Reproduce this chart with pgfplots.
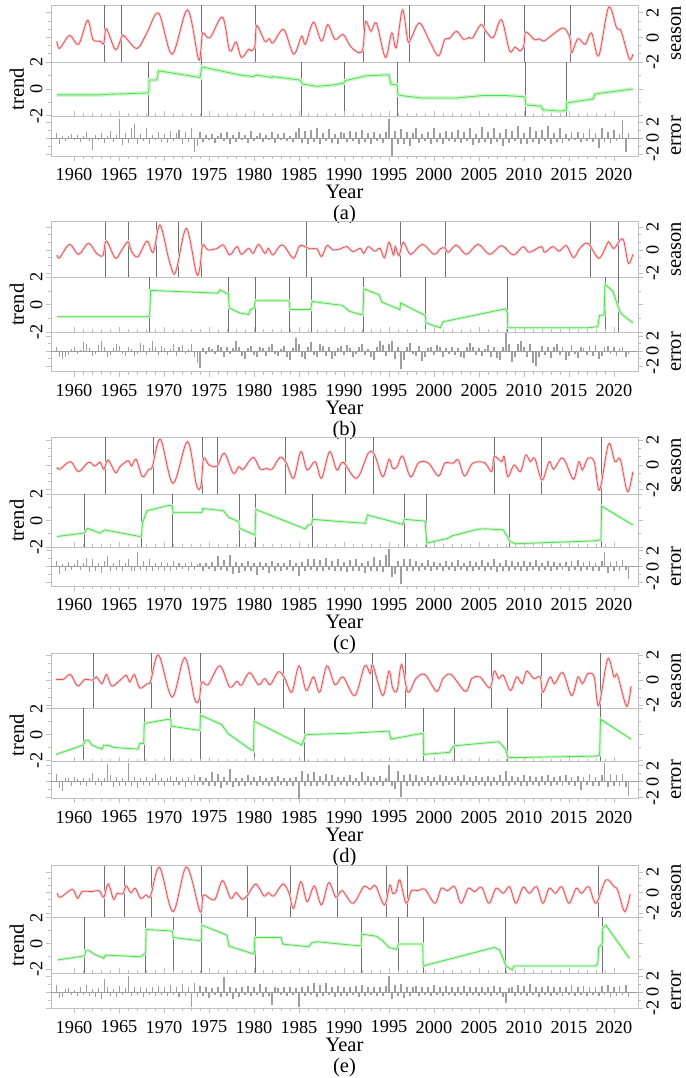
\documentclass[border=0pt]{standalone}
\usepackage{fontspec}
\setmainfont{Liberation Serif}
\usepackage{pgfplots}
\pgfplotsset{compat=1.18}
\usepackage{pgfplotstable}

\definecolor{seasc}{RGB}{226,80,86}
\definecolor{seasband}{RGB}{250,212,214}
\definecolor{trendc}{RGB}{76,224,76}
\definecolor{trendband}{RGB}{210,246,210}
\definecolor{errc}{RGB}{158,158,158}
\definecolor{boxc}{RGB}{192,192,192}
\definecolor{cpc}{RGB}{112,112,112}

% ---------------- season (a) ----------------
\pgfplotstableread{
x y
1958.1 -0.3
1958.4 -0.9
1959.5 0.16
1960.5 -0.56
1961.5 1.39
1962.1 -0.16
1962.9 -0.3
1963.3 -0.5
1963.6 0.7
1964.6 -1.0
1965.3 0.05
1965.6 0.1
1967.0 -0.9
1968.1 0.37
1969.4 1.97
1970.9 -1.36
1972.6 2.24
1973.8 -1.7
1974.1 -1.0
1974.3 0.37
1975.1 -0.03
1976.5 1.65
1977.3 -1.1
1978.0 -0.37
1978.6 -1.63
1979.4 -0.96
1979.7 -1.1
1980.1 -0.7
1980.3 0.96
1981.2 -0.3
1981.7 -0.1
1982.1 -0.45
1983.3 0.64
1984.4 -1.36
1985.3 0.1
1985.7 -0.56
1986.6 1.23
1987.5 -0.3
1988.2 1.04
1989.0 -0.16
1989.9 0.24
1990.7 -0.7
1991.6 -1.23
1992.1 -0.9
1992.4 1.3
1993.0 0.5
1993.6 1.17
1994.6 -1.63
1995.3 0.37
1995.8 -0.83
1996.5 2.24
1997.1 -0.3
1997.5 0.0
1998.4 1.17
1999.6 -0.43
2000.5 -1.5
2001.2 -0.16
2001.7 -0.1
2002.5 0.5
2003.3 -0.16
2003.9 0.0
2004.3 -0.05
2005.2 1.04
2005.9 0.37
2006.6 0.0
2007.5 1.44
2008.4 -1.1
2009.0 -0.8
2009.6 -1.1
2010.0 -0.6
2010.2 0.45
2011.2 -0.2
2011.7 -0.1
2012.2 -0.3
2013.2 0.24
2014.4 0.77
2015.1 -0.03
2015.3 -1.23
2016.0 -0.1
2016.8 -0.56
2017.5 0.37
2018.3 -1.5
2019.4 2.45
2020.3 0.77
2020.8 0.5
2021.7 -1.76
2022.1 -1.36
}\sa
\pgfplotstableread{
x y
1958.1 -0.44
1962.9 -0.44
1963.6 -0.4
1968.1 -0.3
1968.3 -0.28
1968.35 0.67
1969.2 0.67
1969.4 1.36
1974.0 0.86
1974.2 1.65
1978.5 1.04
1979.9 0.93
1980.3 1.04
1982.0 0.86
1982.1 0.93
1985.1 0.67
1985.4 0.37
1987.0 0.2
1988.8 0.3
1989.9 0.44
1990.0 0.45
1990.1 0.62
1991.7 0.86
1992.5 0.99
1995.0 1.06
1995.2 0.37
1995.9 0.3
1996.0 -0.44
1996.9 -0.54
1998.7 -0.67
2002.5 -0.67
2005.4 -0.49
2008.0 -0.49
2009.8 -0.57
2010.1 -0.6
2010.2 -1.19
2011.9 -1.28
2012.1 -1.56
2014.1 -1.65
2014.7 -1.6
2014.75 -1.04
2017.7 -0.74
2017.9 -0.37
2022.1 0.0
}\ta
% ---------------- (b) ----------------
\pgfplotstableread{
x y
1958.1 -0.43
1958.4 -0.67
1959.5 0.49
1960.5 -0.38
1961.6 0.58
1962.5 -0.29
1963.2 -0.49
1963.6 0.78
1964.6 -0.72
1965.3 0
1966.0 0.72
1966.4 -0.14
1967.1 -0.58
1968.1 0.78
1968.8 -0.2
1969.55 2.17
1970.5 -0.72
1971.1 -2.1
1971.5 -1.3
1972.5 1.88
1973.6 -2.03
1974.0 -1.45
1974.3 0.43
1974.9 0
1975.9 0.14
1976.6 0.43
1977.3 -0.43
1978.1 0.29
1978.6 -0.38
1979.4 0.14
1979.9 -0.29
1980.5 0.49
1981.2 -0.29
1981.6 0.14
1982.1 -0.43
1982.9 0.38
1983.4 0.3
1984.4 -0.72
1985.1 0.38
1986.2 0.1
1987.0 0.1
1987.5 -0.58
1988.1 0.38
1988.8 0
1989.6 0.1
1990.3 0.3
1991.0 -0.14
1991.8 0.14
1992.2 -0.29
1992.7 0.29
1993.4 -0.1
1994.0 0.14
1994.5 -0.67
1995.0 0.67
1995.5 -0.43
1995.7 0.29
1996.1 -0.49
1996.6 0.67
1997.4 -0.38
1998.7 0.49
2000.0 -0.38
2000.7 0.1
2001.2 0.2
2001.6 -0.2
2002.5 0.43
2003.6 -0.38
2004.9 0.49
2006.2 -0.38
2007.5 0.38
2008.8 -0.43
2009.9 0.29
2010.6 -0.2
2011.9 0.29
2012.3 -0.2
2013.2 0.29
2013.9 -0.1
2014.7 0.38
2015.5 -0.67
2016.2 0.14
2017.1 0.58
2018.3 -0.72
2019.1 0.29
2019.4 0.72
2019.9 0.14
2020.2 0.3
2021.0 0.96
2021.6 -1.16
2022.1 -0.38
}\sb
\pgfplotstableread{
x y
1958.1 -0.89
1968.1 -0.89
1968.4 -0.85
1968.5 1.04
1976.0 0.84
1976.2 1.08
1976.9 0.84
1977.15 0.8
1977.25 -0.24
1978.4 -0.6
1979.4 -0.72
1979.6 -0.36
1980.0 -0.24
1980.15 0.29
1983.6 0.29
1983.9 0.27
1984.0 -0.36
1986.3 -0.36
1986.45 0.24
1987.7 0.12
1989.8 -0.05
1990.6 -0.48
1991.8 -0.72
1992.1 -0.74
1992.2 1.16
1993.9 0.72
1994.2 0.19
1996.2 -0.36
1996.3 0.12
1998.8 -0.72
1999.05 -0.8
1999.1 -1.33
2000.7 -1.69
2001.0 -1.25
2007.9 -0.31
2008.15 -0.6
2008.2 -1.69
2017.1 -1.69
2018.2 -1.61
2018.4 -0.77
2018.9 -0.77
2019.0 1.49
2019.9 0.96
2020.5 -0.24
2020.8 -0.67
2022.1 -1.33
}\tb
% ---------------- (c) ----------------
\pgfplotstableread{
x y
1958.1 -0.19
1958.4 -0.35
1959.6 0.27
1960.5 -0.54
1961.6 0.22
1962.3 -0.08
1962.9 0.22
1963.3 -0.35
1963.8 0.4
1964.6 -0.62
1965.1 -0.14
1966.0 0.35
1966.4 -0.08
1966.9 0.46
1967.6 -0.95
1968.3 -0.35
1968.7 -0.14
1969.6 2.08
1971.0 -1.49
1972.6 1.89
1973.6 -1.62
1974.1 -1.7
1974.4 0.54
1975.0 0
1975.9 -0.08
1976.7 0.95
1977.7 -0.68
1978.3 -0.14
1978.8 -0.35
1979.9 0.62
1980.7 -0.35
1981.4 -0.27
1982.0 -0.35
1982.9 0.62
1983.6 0.14
1984.4 -1.08
1985.2 1.08
1985.9 -0.4
1986.8 0.27
1987.5 -1.08
1988.4 1.08
1989.2 -0.4
1989.9 0.22
1991.4 -1.08
1992.7 0.95
1993.4 0.81
1994.3 -0.95
1995.0 0.46
1995.4 -0.27
1995.9 -0.14
1996.5 0.73
1997.4 -0.95
1998.3 0.19
1999.4 0.14
2000.5 -0.89
2001.2 0.14
2002.1 0.14
2002.7 0.4
2003.4 -0.89
2004.3 0.14
2005.6 0.19
2006.4 -0.54
2006.7 0.68
2007.5 0.27
2007.8 0.68
2008.2 -0.95
2008.9 0
2009.6 -0.54
2010.2 0.81
2010.7 0.27
2011.2 0.54
2012.0 -1.22
2012.8 0.27
2013.3 -0.35
2014.1 0.54
2014.6 0.27
2015.5 -1.16
2016.1 0.27
2016.5 -0.4
2017.1 0.54
2017.8 0.27
2018.4 -2.03
2019.4 1.7
2020.1 0.27
2020.7 0.46
2021.5 -2.16
2022.1 -0.54
}\sc
\pgfplotstableread{
x y
1958.1 -1.2
1961.0 -0.95
1961.2 -0.9
1961.5 -0.58
1962.9 -0.95
1963.4 -0.7
1967.3 -1.2
1967.5 -1.15
1967.6 -0.2
1968.1 0.75
1970.7 1.18
1970.9 1.15
1971.0 0.6
1974.2 0.6
1974.3 0.92
1976.6 0.75
1977.2 0.25
1978.3 -0.08
1978.4 -0.58
1980.1 -1.08
1980.2 0.85
1985.7 -0.63
1986.0 -0.33
1986.4 -0.3
1986.5 0.1
1989.8 -0.08
1992.4 -0.2
1992.6 0.43
1996.5 -0.28
1996.7 0.1
1999.0 -0.03
1999.2 -1.7
2001.6 -1.33
2002.0 -1.15
2004.9 -0.65
2005.7 -0.62
2007.7 -0.7
2008.3 -1.4
2008.4 -1.58
2009.1 -1.75
2017.9 -1.53
2018.55 -1.45
2018.63 1.1
2022.1 -0.33
}\tc
% ---------------- (d) ----------------
\pgfplotstableread{
x y
1958.0 0.08
1958.8 0.08
1959.6 0.46
1960.4 -0.46
1961.2 0.08
1962.0 0
1962.5 0.27
1963.1 -0.27
1963.6 0.46
1964.2 -0.46
1965.1 0
1965.8 0.4
1966.2 -0.14
1966.7 0.46
1967.3 -0.62
1968.1 -0.27
1968.5 -0.1
1969.4 2.03
1970.9 -1.35
1972.3 1.81
1973.4 -1.49
1973.9 -1.54
1974.2 -0.14
1974.9 -0.35
1976.2 1.16
1977.3 -0.54
1978.1 -0.08
1978.6 -0.4
1979.5 0.62
1980.5 -0.35
1981.2 0.14
1981.8 -0.35
1982.7 0.68
1983.4 0.19
1984.2 -0.95
1985.0 1.16
1985.8 -0.81
1986.6 0.27
1987.3 -0.95
1988.1 1.16
1989.0 -0.35
1989.9 0.27
1991.2 -1.22
1992.3 1.16
1992.9 0.54
1993.2 1.22
1994.3 -1.22
1995.0 0.73
1995.4 -0.62
1995.9 -0.81
1996.4 1.27
1997.1 -0.95
1998.0 0.14
1999.0 0.46
2000.3 -0.89
2001.0 0.14
2001.9 0.46
2003.5 -0.89
2004.2 0.14
2005.1 0.27
2006.2 -0.62
2006.7 0.73
2007.2 0.14
2007.7 0.4
2008.5 -0.81
2009.2 0.27
2009.8 -0.27
2010.3 0.73
2011.1 0.14
2011.8 0.27
2012.1 -0.95
2012.9 0.27
2013.4 -0.27
2014.3 0.62
2015.3 -1.22
2016.0 0.27
2016.5 -0.27
2017.1 0.54
2017.8 0.27
2018.3 -2.03
2019.3 1.7
2020.0 0.27
2020.4 0.4
2021.4 -2.08
2021.9 -0.46
}\sd
\pgfplotstableread{
x y
1958.0 -1.54
1961.0 -0.82
1961.3 -0.44
1961.6 -0.44
1962.0 -0.82
1963.1 -1.13
1963.3 -0.82
1964.0 -0.87
1964.4 -1.0
1967.1 -1.13
1967.3 -0.69
1967.75 -0.69
1967.8 0.85
1970.5 1.18
1970.75 1.15
1970.8 0.64
1973.8 0.33
1974.0 0.35
1974.05 1.49
1976.4 0.77
1977.1 0.08
1979.7 -1.2
1979.95 -1.25
1980.0 1.03
1985.3 -0.82
1985.6 -0.3
1985.7 -0.05
1986.0 0.0
1990.1 0.08
1995.0 0.26
1995.2 -0.36
1998.6 0.08
1998.8 0.08
1998.85 -1.54
2001.7 -1.38
2002.1 -0.95
2002.3 -0.87
2007.2 -0.56
2007.9 -1.08
2008.15 -1.6
2008.2 -1.79
2018.0 -1.67
2018.4 -1.6
2018.5 1.18
2021.9 -0.36
}\td
% ---------------- (e) ----------------
\pgfplotstableread{
x y
1958.15 -0.06
1958.5 -0.45
1959.8 0.32
1960.4 -0.55
1960.9 0.1
1962.0 0.1
1962.8 0.19
1963.3 -0.45
1963.8 0.84
1964.4 -0.65
1964.8 -0.06
1965.4 -0.13
1965.8 0.65
1966.3 0
1966.8 0.42
1967.4 -0.55
1968.0 -0.23
1968.5 -0.32
1969.5 2.45
1971.0 -1.84
1972.5 2.5
1974.0 -1.84
1974.4 -0.23
1975.6 -0.7
1976.5 1.16
1977.4 -0.55
1978.0 0
1978.7 -0.65
1979.3 -0.23
1980.2 0.84
1981.1 -0.32
1981.6 0
1982.2 -0.32
1983.2 0.84
1983.9 -0.06
1984.4 -1.52
1985.2 1.06
1985.9 -0.87
1986.7 0.65
1987.5 -1.19
1988.3 0.97
1989.1 -0.45
1989.8 0.19
1991.0 -1.03
1992.2 0.58
1992.9 0.32
1993.5 0.65
1994.5 -1.19
1995.1 0.74
1995.4 -0.06
1995.8 0.1
1996.2 1.23
1996.9 -1.03
1997.5 0.19
1998.2 0.19
1999.0 0.32
2000.1 -1.03
2000.8 0.42
2001.5 0.19
2002.3 0.58
2003.0 -1.03
2003.8 0.42
2004.5 0.1
2005.3 0.52
2006.1 -1.03
2006.9 0.42
2007.7 -0.06
2008.4 0.58
2009.1 -1.03
2009.9 0.52
2010.6 -0.06
2011.4 0.58
2012.1 -1.03
2012.8 0.42
2013.5 -0.06
2014.2 0.58
2015.0 -1.03
2015.8 0.42
2016.4 -0.06
2017.2 0.58
2018.0 -1.03
2019.1 1.23
2020.0 0.58
2020.4 0.26
2021.2 -1.84
2021.8 -0.13
}\se
\pgfplotstableread{
x y
1958.15 -1.28
1961.1 -0.97
1961.2 -0.9
1961.3 -0.56
1961.7 -0.56
1962.2 -0.82
1963.1 -1.08
1963.3 -1.15
1963.5 -0.9
1967.4 -1.03
1967.8 -0.82
1967.96 -0.7
1968.0 1.08
1970.7 0.97
1970.95 0.95
1971.0 0.46
1974.0 0.21
1974.15 0.3
1974.2 1.41
1977.0 0.64
1977.2 -0.2
1980.0 -0.82
1980.1 0.46
1983.0 0.46
1983.2 -0.05
1986.1 -0.26
1986.4 0.05
1987.0 0.13
1991.9 -0.2
1991.96 0.72
1993.6 0.56
1994.2 0.26
1995.0 -0.31
1995.8 -0.46
1996.07 -0.05
1998.75 -0.05
1998.8 -1.74
2006.7 -0.31
2007.3 -0.51
2008.0 -1.74
2008.7 -2.05
2008.9 -1.74
2018.0 -1.74
2018.2 -1.54
2018.3 -0.31
2018.7 0.0
2018.75 1.15
2019.1 1.41
2021.7 -1.15
}\te
% ---------------- errors (every 4 months from 1958.0) ----------------
\pgfplotstableread[row sep=\\,header=false]{
0.6\\-0.7\\0.3\\-0.4\\0.2\\0.5\\-0.3\\0.4\\-0.5\\0.3\\0.8\\-0.4\\
-1.5\\0.4\\-0.3\\0.6\\-0.6\\0.3\\0.9\\-0.5\\0.4\\2.4\\-0.9\\0.6\\
-0.6\\1.2\\1.7\\-0.8\\0.5\\-0.4\\1.3\\-0.7\\0.4\\-0.3\\0.8\\-0.5\\
0.5\\-0.6\\0.9\\-0.4\\0.6\\1.0\\-0.8\\0.7\\-0.5\\1.2\\-1.8\\-1.0\\
0.7\\-0.5\\0.4\\-0.3\\0.5\\-0.6\\0.3\\0.6\\-0.4\\0.8\\-0.7\\0.4\\
-0.5\\0.7\\-0.3\\0.4\\-0.6\\0.9\\-0.4\\0.3\\0.6\\-0.5\\0.4\\-0.3\\
0.8\\-0.6\\0.5\\-0.3\\0.6\\-0.4\\0.3\\-0.5\\0.7\\1.2\\-0.6\\0.9\\
-0.7\\1.0\\-0.5\\1.3\\-0.8\\0.6\\-0.4\\1.1\\-0.6\\0.5\\-0.7\\0.8\\
0.6\\-0.5\\0.9\\-0.4\\0.7\\-0.8\\1.0\\-0.5\\0.6\\-0.7\\0.8\\-0.4\\
0.5\\-0.6\\0.7\\2.4\\-2.3\\0.9\\-0.8\\1.1\\-0.7\\0.8\\-1.0\\0.6\\
1.2\\-0.6\\0.5\\-0.4\\0.8\\-0.7\\1.3\\-0.5\\0.6\\-0.8\\0.9\\-0.4\\
0.7\\-0.5\\1.0\\-0.6\\0.8\\-0.4\\1.2\\-0.9\\0.5\\-0.6\\1.4\\-0.5\\
0.8\\-0.7\\1.3\\-0.5\\0.6\\-1.0\\1.1\\-0.6\\0.9\\-0.4\\1.5\\-0.8\\
0.6\\-0.7\\1.4\\-0.5\\0.9\\-0.8\\1.0\\-0.4\\1.5\\-0.7\\0.6\\-0.5\\
1.2\\-0.6\\0.5\\-0.4\\0.7\\-0.3\\0.8\\-0.5\\0.6\\-0.4\\1.1\\-0.5\\
0.6\\-1.2\\1.3\\-0.5\\0.8\\-0.6\\1.0\\-0.4\\0.5\\2.2\\-1.7\\0.6\\
}\ea
\pgfplotstableread[row sep=\\,header=false]{
0.5\\-0.8\\-1.0\\-0.7\\-0.5\\0.3\\0.6\\-0.4\\0.2\\1.2\\1.0\\0.4\\
-0.6\\-0.4\\0.8\\1.3\\0.6\\-0.7\\-0.5\\0.4\\0.9\\0.7\\-0.3\\-0.6\\
0.5\\0.3\\-0.6\\-0.4\\1.1\\0.8\\-0.5\\0.4\\1.3\\0.6\\-0.5\\0.7\\
0.4\\-0.5\\0.3\\0.9\\-0.6\\0.5\\0.8\\-0.4\\0.3\\1.0\\-0.8\\-1.6\\
-2.2\\0.4\\-0.3\\0.5\\0.3\\-0.4\\0.8\\0.6\\-0.7\\0.5\\-0.3\\0.4\\
1.3\\0.5\\-0.6\\-1.0\\0.4\\0.7\\-0.5\\-0.8\\0.6\\0.4\\-0.6\\0.5\\
0.9\\-0.4\\-0.6\\0.3\\0.7\\-0.8\\-1.1\\0.4\\1.8\\0.9\\-0.7\\-1.0\\
0.6\\1.2\\-0.5\\-0.8\\1.0\\0.7\\-0.6\\0.5\\-1.0\\-0.6\\0.4\\0.7\\
-0.5\\0.8\\0.4\\-0.7\\-0.4\\0.6\\1.0\\-0.5\\0.3\\-0.8\\-1.2\\0.5\\
1.4\\0.8\\-0.6\\1.0\\1.3\\-1.0\\0.6\\-2.3\\-1.2\\0.5\\1.1\\-0.4\\
-0.6\\0.7\\-1.3\\-0.8\\0.4\\0.6\\-0.5\\0.8\\0.5\\-0.7\\0.4\\-0.4\\
0.6\\-0.5\\0.4\\-0.7\\-0.9\\0.5\\1.1\\0.6\\-0.5\\0.4\\-0.6\\0.3\\
0.8\\-0.7\\0.5\\-0.9\\-1.2\\0.6\\2.4\\1.0\\-1.4\\-0.8\\0.9\\1.3\\
0.6\\-0.7\\1.0\\-1.6\\-2.0\\-0.8\\0.7\\-0.5\\0.6\\-0.9\\0.5\\1.0\\
-0.5\\0.6\\-1.2\\-0.6\\0.8\\-0.4\\-0.9\\0.6\\0.4\\-0.5\\0.7\\-0.6\\
0.8\\-1.0\\-0.6\\0.5\\0.7\\-0.4\\0.5\\-0.6\\0.4\\0.6\\-0.7\\-0.4\\
}\eb
\pgfplotstableread[row sep=\\,header=false]{
0.7\\-0.9\\0.3\\-0.5\\0.6\\-0.4\\0.3\\0.8\\-0.4\\0.5\\1.1\\-0.7\\
0.9\\-0.5\\0.4\\-0.8\\0.7\\1.3\\-0.6\\0.5\\-0.4\\0.8\\-0.6\\0.4\\
1.0\\-0.5\\-0.6\\1.8\\-0.4\\0.7\\-0.5\\0.9\\-0.6\\0.5\\-0.4\\0.6\\
-0.5\\0.4\\-0.6\\0.7\\-0.4\\0.5\\-0.3\\0.4\\-0.5\\0.6\\-0.4\\0.3\\
0.5\\-0.6\\0.4\\-0.3\\0.6\\-0.5\\1.3\\-0.4\\0.8\\-0.5\\1.4\\-0.9\\
0.6\\-0.8\\0.5\\-0.6\\0.7\\-0.5\\0.4\\-1.0\\0.6\\-0.4\\0.5\\-0.8\\
0.7\\-0.5\\0.4\\-0.6\\0.5\\-0.4\\0.8\\-0.6\\0.4\\-1.1\\0.6\\-0.5\\
0.9\\-0.4\\1.0\\-0.6\\0.8\\-0.5\\1.1\\-0.4\\0.7\\-0.6\\0.9\\-0.5\\
0.6\\-0.7\\0.8\\-0.5\\0.9\\-0.6\\0.5\\-0.8\\0.7\\-0.5\\1.2\\-0.6\\
0.8\\-0.7\\1.5\\2.2\\-1.3\\-0.9\\0.7\\-2.2\\0.9\\-0.6\\1.0\\-0.5\\
0.7\\-0.6\\0.5\\-0.4\\0.8\\-0.5\\0.6\\-0.4\\0.5\\-0.6\\0.7\\-0.4\\
0.6\\-0.5\\0.8\\-0.4\\0.5\\-0.6\\0.7\\-0.5\\0.6\\-0.4\\0.8\\-0.5\\
0.6\\-0.4\\0.9\\-0.7\\0.5\\-0.6\\0.8\\-0.5\\0.7\\-0.4\\0.6\\-0.5\\
0.7\\-0.5\\0.6\\-0.4\\0.8\\-0.6\\0.5\\-0.4\\0.7\\-0.5\\0.6\\-0.4\\
0.5\\-0.4\\0.6\\-0.5\\0.7\\-0.4\\0.8\\-0.5\\0.6\\-0.4\\0.7\\-0.5\\
0.5\\-0.6\\0.7\\1.8\\-0.8\\0.6\\-0.5\\0.7\\-0.6\\0.8\\-0.4\\-1.5\\
}\ec
\pgfplotstableread[row sep=\\,header=false]{
1.0\\-0.8\\-1.2\\0.5\\0.4\\-0.6\\0.6\\0.3\\-0.4\\0.5\\-0.5\\0.4\\
1.1\\-0.4\\0.4\\-0.6\\0.5\\2.2\\0.8\\-0.7\\0.6\\-0.5\\0.4\\-0.6\\
2.3\\-0.5\\0.6\\-0.8\\0.5\\-0.4\\0.6\\-0.5\\0.4\\0.9\\-0.4\\0.5\\
-0.6\\0.4\\0.7\\-0.5\\0.6\\-0.4\\0.5\\-0.7\\0.6\\-0.4\\0.8\\-0.5\\
0.6\\-0.4\\0.5\\-0.6\\1.2\\-0.5\\0.9\\-0.8\\0.6\\-0.4\\1.6\\-0.7\\
0.5\\-0.6\\0.4\\-0.5\\0.8\\-0.4\\0.6\\-0.5\\0.7\\-0.4\\0.5\\-0.6\\
0.6\\-0.5\\0.7\\-0.4\\0.5\\-0.6\\0.4\\-0.5\\0.6\\-2.2\\1.3\\-0.5\\
0.9\\-0.6\\1.2\\-0.5\\0.7\\-0.4\\1.0\\-0.6\\0.8\\-0.5\\0.6\\-0.4\\
0.6\\-0.5\\0.8\\-0.4\\0.5\\-0.6\\1.2\\-0.4\\0.7\\-0.5\\0.6\\-0.4\\
0.7\\-0.5\\0.5\\2.1\\-0.6\\-0.9\\1.3\\-1.9\\0.8\\-0.5\\1.0\\-0.6\\
0.8\\-0.5\\0.6\\-0.4\\0.7\\-0.5\\0.6\\-0.4\\0.8\\-0.5\\0.7\\-0.4\\
0.6\\-0.4\\0.7\\-0.5\\0.8\\-0.4\\0.6\\-0.5\\0.7\\-0.4\\0.6\\-0.5\\
0.7\\-0.5\\0.6\\-0.4\\0.8\\-0.5\\1.3\\-0.6\\0.7\\-0.4\\0.6\\-0.5\\
0.8\\-0.5\\0.7\\-0.4\\0.6\\-0.5\\0.7\\-0.4\\0.8\\-0.5\\0.6\\-0.4\\
0.7\\-0.5\\0.8\\-0.4\\0.6\\-0.5\\0.7\\-1.1\\0.6\\-0.4\\0.9\\-0.5\\
0.6\\-0.5\\0.8\\2.3\\-0.7\\0.9\\-0.5\\0.8\\-0.6\\1.0\\-0.7\\-1.8\\
}\ed
\pgfplotstableread[row sep=\\,header=false]{
0.9\\-0.7\\-0.6\\0.4\\0.5\\-0.4\\0.3\\-0.5\\0.6\\-0.4\\0.9\\-0.5\\
0.4\\-0.6\\0.5\\-0.8\\1.6\\0.6\\-0.5\\0.4\\-0.6\\0.8\\-0.4\\0.5\\
2.0\\-0.5\\0.6\\-0.4\\0.7\\-0.6\\0.5\\-0.4\\0.6\\-0.5\\0.8\\-0.4\\
0.6\\-0.5\\0.9\\-0.4\\0.7\\-0.6\\1.0\\-0.5\\0.6\\-1.8\\1.2\\-0.6\\
0.8\\-0.5\\0.6\\-0.7\\0.5\\-0.4\\0.7\\-0.6\\1.9\\-0.5\\0.6\\-0.8\\
0.5\\-0.6\\0.7\\-0.4\\0.8\\-0.5\\0.6\\-0.4\\1.0\\-0.6\\0.7\\-0.5\\
-1.6\\0.6\\0.5\\-0.4\\0.7\\-0.5\\0.6\\-0.4\\0.5\\-1.9\\0.7\\-0.5\\
0.8\\-0.4\\1.1\\-0.6\\0.9\\-0.5\\1.2\\-0.4\\0.7\\-0.6\\0.8\\-0.5\\
0.6\\-0.5\\0.7\\-0.4\\0.8\\-0.6\\0.9\\-0.5\\0.6\\-0.4\\0.7\\-0.5\\
0.6\\-0.5\\0.8\\2.0\\-0.8\\0.9\\-0.5\\1.0\\-0.7\\0.6\\-0.5\\0.7\\
0.8\\-0.5\\0.6\\-0.4\\0.7\\-0.5\\0.9\\-0.4\\0.6\\-0.5\\0.8\\-0.4\\
0.7\\-0.5\\0.6\\-0.4\\0.8\\-0.5\\0.7\\-0.4\\0.6\\-0.5\\0.7\\-0.4\\
0.6\\-0.5\\0.8\\-0.4\\0.7\\-0.6\\-1.4\\0.5\\0.6\\-0.5\\0.9\\-0.4\\
0.8\\-0.5\\1.0\\-0.4\\0.7\\-0.6\\0.6\\-0.4\\0.8\\-0.5\\0.7\\-0.4\\
0.6\\-0.5\\0.7\\-0.4\\0.9\\-0.5\\0.6\\-0.4\\0.8\\-0.5\\0.7\\-0.4\\
0.7\\-0.5\\0.8\\-0.4\\0.9\\-0.6\\0.7\\-0.5\\0.8\\-0.4\\0.9\\-0.6\\
}\ee

\pgfplotsset{
  beast/.style={
    scale only axis, width=587pt, xmin=1957.44, xmax=2022.67,
    axis line style={draw=boxc, line width=0.8pt},
    tick style={draw=boxc, line width=0.8pt},
    major tick length=5pt, minor tick length=3pt,
    tick align=outside,
    ytick={-2,0,2}, ytick pos=both,
    every tick label/.append style={font=\fontsize{18.3}{18.3}\selectfont},
    /pgf/number format/assume math mode=true,
    /pgf/number format/1000 sep={},
    label style={font=\fontsize{20.5}{20.5}\selectfont},
    extra x tick style={grid=major, major grid style={draw=cpc, line width=0.8pt}, major tick length=0pt},
    extra x tick labels={},
    anchor=north west,
  },
  seasonax/.style={beast, xtick=\empty, minor y tick num=2,
    yticklabel pos=right, yticklabel style={rotate=90, anchor=north},
    ylabel=season, ylabel style={at={(axis description cs:1.065,0.5)}, anchor=center}},
  trendax/.style={beast, xtick=\empty, minor y tick num=1,
    yticklabel pos=left, yticklabel style={rotate=90, anchor=south},
    ylabel=trend, ylabel style={at={(axis description cs:-0.058,0.5)}, anchor=center}},
  errax/.style={beast, xtick={1960,1965,...,2020}, minor x tick num=4,
    xtick pos=both, xticklabel pos=bottom, minor y tick num=1,
    xticklabel style={yshift=-4pt},
    yticklabel pos=right, yticklabel style={rotate=90, anchor=north},
    ylabel=error, ylabel style={at={(axis description cs:1.065,0.5)}, anchor=center},
    xlabel style={align=center, font=\fontsize{20.5}{21}\selectfont,
      at={(axis description cs:0.5,0)}, anchor=north, yshift=-26pt}},
  splot/.style={seasc, line width=0.75pt, smooth, tension=0.55},
  sband/.style={seasband, line width=2.6pt, smooth, tension=0.55},
  tplot/.style={trendc, line width=0.8pt},
  tband/.style={trendband, line width=3pt},
  eplot/.style={errc, ycomb, line width=1.05pt},
}

\begin{document}
\begin{tikzpicture}
\path[use as bounding box] (0,0) rectangle (685pt,-1078pt);

% ================= (a) =================
\begin{axis}[seasonax, at={(51pt,-5pt)}, height=57pt, ymin=-2.0, ymax=2.64,
  extra x ticks={1963.4,1965.3,1974.15,1980.2,1992.15,1997.25,2005.6,2010.1,2015.2}]
\addplot[sband] table {\sa};
\addplot[splot] table {\sa};
\end{axis}
\begin{axis}[trendax, at={(51pt,-62pt)}, height=54pt, ymin=-2.02, ymax=2.02,
  extra x ticks={1968.3,1974.15,1985.3,1990.0,1995.96,2010.2,2014.7}]
\addplot[tband, line width=4pt] table {\ta};
\addplot[tplot] table {\ta};
\end{axis}
\begin{axis}[errax, at={(51pt,-116pt)}, height=40pt, ymin=-2.25, ymax=2.75,
  xlabel={Year\\(a)}]
\addplot[errc, line width=0.8pt] coordinates {(1957.44,0) (2022.67,0)};
\addplot[eplot] table[x expr=1958+\coordindex/3, y index=0] {\ea};
\end{axis}

% ================= (b) =================
\begin{axis}[seasonax, at={(51pt,-221.7pt)}, height=55.3pt, ymin=-2.35, ymax=2.46,
  extra x ticks={1963.5,1966.07,1969.15,1971.6,1974.2,1985.85,1996.3,2001.26,2017.33,2020.5}]
\addplot[sband] table {\sb};
\addplot[splot] table {\sb};
\end{axis}
\begin{axis}[trendax, at={(51pt,-277pt)}, height=55.3pt, ymin=-2.02, ymax=2.02,
  extra x ticks={1968.4,1977.2,1980.15,1983.9,1986.4,1992.2,1999.05,2008.2,2019.0,2020.5}]
\addplot[tband] table {\tb};
\addplot[tplot] table {\tb};
\end{axis}
\begin{axis}[errax, at={(51pt,-332.3pt)}, height=39.4pt, ymin=-2.7, ymax=2.5,
  xlabel={Year\\(b)}]
\addplot[errc, line width=0.8pt] coordinates {(1957.44,0) (2022.67,0)};
\addplot[eplot] table[x expr=1958+\coordindex/3, y index=0] {\eb};
\end{axis}

% ================= (c) =================
\begin{axis}[seasonax, at={(51pt,-437.3pt)}, height=56.7pt, ymin=-2.35, ymax=2.24,
  extra x ticks={1963.5,1968.85,1974.3,1975.9,1983.5,1990.1,1993.26,2006.67,2011.96,2018.63}]
\addplot[sband] table {\sc};
\addplot[splot] table {\sc};
\end{axis}
\begin{axis}[trendax, at={(51pt,-494pt)}, height=53.3pt, ymin=-2.02, ymax=2.02,
  extra x ticks={1961.2,1967.5,1970.9,1978.4,1980.2,1986.5,1996.7,1999.2,2008.4,2018.63}]
\addplot[tband] table {\tc};
\addplot[tplot] table {\tc};
\end{axis}
\begin{axis}[errax, at={(51pt,-547.3pt)}, height=38.7pt, ymin=-2.4, ymax=2.4,
  xlabel={Year\\(c)}]
\addplot[errc, line width=0.8pt] coordinates {(1957.44,0) (2022.67,0)};
\addplot[eplot] table[x expr=1958+\coordindex/3, y index=0] {\ec};
\end{axis}

% ================= (d) =================
\begin{axis}[seasonax, at={(51pt,-653.3pt)}, height=55pt, ymin=-2.24, ymax=2.16,
  extra x ticks={1962.15,1968.6,1974.0,1983.3,1993.2,1996.85,2006.4,2011.96,2018.44}]
\addplot[sband] table {\sd};
\addplot[splot] table {\sd};
\end{axis}
\begin{axis}[trendax, at={(51pt,-708.3pt)}, height=53.4pt, ymin=-2.1, ymax=2.02,
  extra x ticks={1961.0,1967.8,1970.75,1974.0,1980.0,1985.6,1998.8,2002.3,2008.15,2018.44}]
\addplot[tband] table {\td};
\addplot[tplot] table {\td};
\end{axis}
\begin{axis}[errax, at={(51pt,-761.7pt)}, height=36.6pt, ymin=-2.1, ymax=2.5,
  xlabel={Year\\(d)}]
\addplot[errc, line width=0.8pt] coordinates {(1957.44,0) (2022.67,0)};
\addplot[eplot] table[x expr=1958+\coordindex/3, y index=0] {\ed};
\end{axis}

% ================= (e) =================
\begin{axis}[seasonax, at={(51pt,-865.7pt)}, height=51.6pt, ymin=-2.39, ymax=2.61,
  extra x ticks={1963.4,1965.55,1968.6,1974.2,1979.25,1984.07,1989.3,1994.7,1997.07,2018.26}]
\addplot[sband] table {\se};
\addplot[splot] table {\se};
\end{axis}
\begin{axis}[trendax, at={(51pt,-917.3pt)}, height=56pt, ymin=-2.31, ymax=2.02,
  extra x ticks={1961.2,1967.96,1971.0,1974.2,1980.1,1991.96,1996.07,1998.8,2007.96,2018.7}]
\addplot[tband] table {\te};
\addplot[tplot] table {\te};
\end{axis}
\begin{axis}[errax, at={(51pt,-973.3pt)}, height=35pt, ymin=-2.02, ymax=2.37,
  xlabel={Year\\(e)}]
\addplot[errc, line width=0.8pt] coordinates {(1957.44,0) (2022.67,0)};
\addplot[eplot] table[x expr=1958+\coordindex/3, y index=0] {\ee};
\end{axis}

\end{tikzpicture}
\end{document}
